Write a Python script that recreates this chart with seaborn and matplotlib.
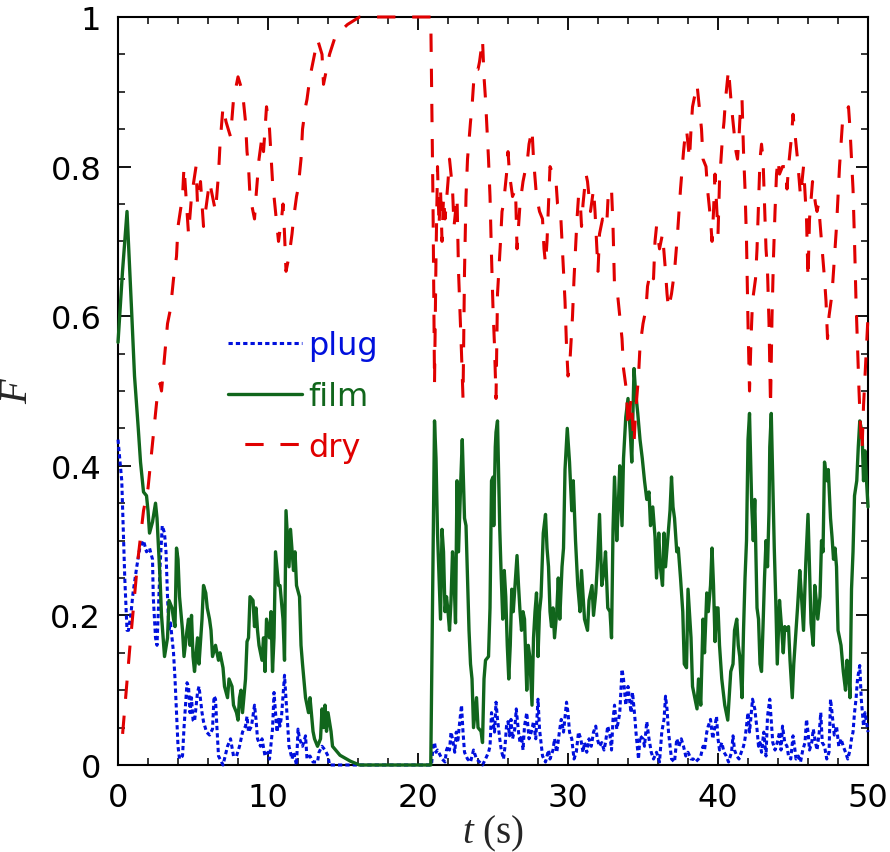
import matplotlib
matplotlib.use("Agg")
import matplotlib.pyplot as plt
from matplotlib.ticker import MultipleLocator, FuncFormatter
import pandas as pd
import seaborn as sns

# plug fraction (blue, dotted)
t_plug = [
    0, 0.25, 0.35, 0.45, 0.6, 0.7, 0.85, 1.0, 1.25, 1.45,
    1.7, 1.9, 2.1, 2.3, 2.35, 2.5, 2.6, 2.8, 2.95, 3.1,
    3.2, 3.3, 3.4, 3.5, 3.7, 3.8, 3.9, 4.0, 4.1, 4.3,
    4.4, 4.6, 4.7, 4.8, 4.9, 5.0, 5.1, 5.3, 5.4, 5.6,
    5.7, 5.9, 6.1, 6.3, 6.4, 6.5, 6.6, 6.7, 7.0, 7.3,
    7.5, 7.7, 7.9, 8.1, 8.3, 8.5, 8.6, 8.7, 8.9, 9.1,
    9.2, 9.3, 9.5, 9.6, 9.8, 10.0, 10.1, 10.3, 10.4, 10.5,
    10.6, 10.7, 10.8, 10.9, 11.1, 11.2, 11.3, 11.4, 11.6, 11.7,
    11.9, 12.0, 12.1, 12.3, 12.5, 12.6, 12.8, 13.0, 13.3, 13.4,
    13.6, 13.8, 14.0, 14.1, 16.0, 18.0, 20.0, 20.9, 21.0, 21.1,
    21.2, 21.3, 21.5, 21.6, 21.8, 21.9, 22.0, 22.1, 22.2, 22.3,
    22.45, 22.55, 22.65, 22.75, 22.9, 23.0, 23.1, 23.3, 23.5, 23.7,
    23.9, 24.1, 24.3, 24.5, 24.7, 24.8, 24.9, 25.0, 25.1, 25.2,
    25.3, 25.45, 25.55, 25.7, 25.8, 25.9, 26.0, 26.1, 26.2, 26.3,
    26.45, 26.55, 26.7, 26.8, 26.9, 27.0, 27.1, 27.25, 27.4, 27.55,
    27.7, 27.85, 28.0, 28.1, 28.2, 28.3, 28.5, 28.7, 28.8, 29.0,
    29.1, 29.25, 29.45, 29.55, 29.7, 29.9, 30.0, 30.1, 30.25, 30.4,
    30.55, 30.7, 30.85, 31.0, 31.1, 31.25, 31.4, 31.55, 31.7, 31.85,
    31.95, 32.1, 32.25, 32.4, 32.5, 32.65, 32.8, 32.9, 33.0, 33.1,
    33.25, 33.35, 33.45, 33.6, 33.7, 33.85, 34.0, 34.1, 34.2, 34.3,
    34.45, 34.55, 34.7, 34.8, 35.0, 35.1, 35.25, 35.4, 35.55, 35.7,
    35.9, 36.1, 36.25, 36.4, 36.5, 36.6, 36.7, 36.9, 37.1, 37.25,
    37.4, 37.55, 37.7, 37.85, 38.0, 38.2, 38.35, 38.5, 38.7, 38.85,
    39.0, 39.1, 39.25, 39.35, 39.5, 39.65, 39.8, 39.9, 40.0, 40.1,
    40.25, 40.4, 40.55, 40.7, 40.9, 41.0, 41.1, 41.25, 41.4, 41.55,
    41.7, 41.8, 41.9, 42.0, 42.1, 42.2, 42.3, 42.45, 42.6, 42.7,
    42.8, 42.9, 43.05, 43.2, 43.3, 43.45, 43.55, 43.65, 43.8, 43.95,
    44.1, 44.2, 44.3, 44.45, 44.6, 44.7, 44.85, 45.0, 45.1, 45.2,
    45.35, 45.5, 45.65, 45.8, 45.9, 46.0, 46.1, 46.25, 46.35, 46.5,
    46.6, 46.75, 46.85, 46.95, 47.1, 47.25, 47.4, 47.5, 47.6, 47.75,
    47.9, 48.05, 48.2, 48.35, 48.5, 48.65, 48.8, 48.9, 49.0, 49.1,
    49.2, 49.3, 49.45, 49.55, 49.7, 49.8, 50.0]
f_plug = [
    0.435, 0.38, 0.315, 0.25, 0.18, 0.18, 0.20, 0.23, 0.265, 0.29,
    0.30, 0.285, 0.29, 0.275, 0.225, 0.17, 0.16, 0.265, 0.32, 0.31,
    0.285, 0.225, 0.18, 0.19, 0.15, 0.115, 0.07, 0.025, 0.008, 0.012,
    0.05, 0.11, 0.105, 0.07, 0.09, 0.06, 0.058, 0.097, 0.105, 0.07,
    0.058, 0.044, 0.04, 0.048, 0.092, 0.088, 0.048, 0.012, 0.0, 0.025,
    0.035, 0.012, 0.012, 0.025, 0.044, 0.052, 0.065, 0.044, 0.052, 0.08,
    0.061, 0.035, 0.025, 0.035, 0.012, 0.017, 0.008, 0.048, 0.097, 0.07,
    0.044, 0.061, 0.052, 0.065, 0.12, 0.088, 0.057, 0.025, 0.008, 0.017,
    0.0, 0.048, 0.035, 0.025, 0.039, 0.008, 0.012, 0.004, 0.004, 0.017,
    0.025, 0.02, 0.012, 0.0, 0.0, 0.0, 0.0, 0.0, 0.025, 0.03,
    0.017, 0.02, 0.012, 0.008, 0.004, 0.02, 0.025, 0.02, 0.044, 0.035,
    0.017, 0.044, 0.03, 0.052, 0.08, 0.044, 0.017, 0.008, 0.004, 0.02,
    0.008, 0.004, 0.0, 0.008, 0.017, 0.025, 0.07, 0.058, 0.044, 0.084,
    0.061, 0.035, 0.02, 0.008, 0.025, 0.052, 0.058, 0.039, 0.061, 0.035,
    0.048, 0.075, 0.044, 0.03, 0.039, 0.02, 0.052, 0.07, 0.035, 0.044,
    0.058, 0.035, 0.088, 0.048, 0.03, 0.012, 0.004, 0.02, 0.008, 0.02,
    0.035, 0.017, 0.048, 0.061, 0.044, 0.084, 0.07, 0.044, 0.035, 0.008,
    0.017, 0.044, 0.035, 0.017, 0.03, 0.017, 0.035, 0.025, 0.044, 0.052,
    0.035, 0.025, 0.03, 0.02, 0.03, 0.052, 0.039, 0.02, 0.061, 0.08,
    0.048, 0.058, 0.07, 0.128, 0.115, 0.08, 0.105, 0.088, 0.07, 0.097,
    0.065, 0.039, 0.008, 0.039, 0.035, 0.025, 0.058, 0.035, 0.017, 0.008,
    0.017, 0.004, 0.044, 0.061, 0.092, 0.075, 0.044, 0.008, 0.004, 0.035,
    0.025, 0.035, 0.025, 0.012, 0.017, 0.008, 0.008, 0.004, 0.008, 0.012,
    0.025, 0.02, 0.044, 0.052, 0.061, 0.035, 0.052, 0.065, 0.035, 0.02,
    0.03, 0.017, 0.012, 0.004, 0.017, 0.039, 0.02, 0.012, 0.008, 0.017,
    0.025, 0.035, 0.052, 0.07, 0.044, 0.065, 0.088, 0.075, 0.048, 0.025,
    0.03, 0.017, 0.044, 0.012, 0.065, 0.088, 0.058, 0.03, 0.02, 0.03,
    0.044, 0.02, 0.052, 0.03, 0.025, 0.012, 0.008, 0.039, 0.025, 0.008,
    0.012, 0.004, 0.02, 0.03, 0.061, 0.044, 0.02, 0.03, 0.048, 0.03,
    0.02, 0.044, 0.07, 0.03, 0.025, 0.008, 0.017, 0.088, 0.07, 0.04,
    0.052, 0.025, 0.035, 0.025, 0.017, 0.008, 0.02, 0.035, 0.044, 0.07,
    0.088, 0.115, 0.133, 0.088, 0.052, 0.07, 0.044]

# film fraction (green, solid)
t_film = [
    0, 0.3, 0.6, 0.9, 1.1, 1.35, 1.5, 1.7, 1.9, 2.0,
    2.1, 2.3, 2.5, 2.6, 2.8, 2.9, 3.1, 3.3, 3.4, 3.6,
    3.7, 3.8, 3.9, 4.0, 4.1, 4.3, 4.4, 4.6, 4.7, 4.8,
    4.9, 5.0, 5.1, 5.3, 5.4, 5.6, 5.7, 5.85, 5.95, 6.1,
    6.2, 6.3, 6.5, 6.7, 6.8, 7.0, 7.1, 7.3, 7.4, 7.6,
    7.7, 7.9, 8.0, 8.1, 8.2, 8.3, 8.5, 8.6, 8.7, 8.8,
    9.0, 9.1, 9.2, 9.3, 9.4, 9.6, 9.7, 9.8, 9.9, 10.1,
    10.2, 10.3, 10.4, 10.5, 10.7, 10.8, 11.0, 11.1, 11.2, 11.4,
    11.5, 11.7, 11.8, 11.9, 12.1, 12.2, 12.3, 12.5, 12.7, 12.8,
    13.0, 13.1, 13.3, 13.5, 13.6, 13.7, 13.8, 13.9, 14.0, 14.2,
    14.3, 14.8, 15.5, 16.1, 18.0, 20.0, 20.85, 21.1, 21.2, 21.3,
    21.5, 21.6, 21.7, 21.8, 21.9, 22.0, 22.1, 22.2, 22.3, 22.4,
    22.5, 22.6, 22.7, 22.85, 22.95, 23.1, 23.2, 23.3, 23.4, 23.5,
    23.6, 23.7, 23.9, 24.0, 24.2, 24.3, 24.4, 24.5, 24.7, 24.8,
    24.9, 25.0, 25.05, 25.15, 25.2, 25.3, 25.45, 25.55, 25.65, 25.75,
    25.85, 25.95, 26.05, 26.15, 26.25, 26.35, 26.5, 26.6, 26.7, 26.8,
    26.9, 27.0, 27.1, 27.25, 27.35, 27.45, 27.6, 27.7, 27.8, 27.9,
    28.0, 28.1, 28.2, 28.35, 28.5, 28.6, 28.7, 28.8, 28.9, 29.0,
    29.1, 29.25, 29.35, 29.45, 29.6, 29.7, 29.8, 29.95, 30.1, 30.25,
    30.35, 30.5, 30.65, 30.8, 30.9, 31.1, 31.3, 31.4, 31.6, 31.7,
    31.85, 31.95, 32.1, 32.25, 32.4, 32.5, 32.65, 32.8, 32.9, 33.0,
    33.1, 33.25, 33.35, 33.45, 33.6, 33.7, 33.85, 34.0, 34.15, 34.25,
    34.4, 34.5, 34.65, 34.8, 34.95, 35.1, 35.25, 35.4, 35.5, 35.65,
    35.8, 35.9, 36.05, 36.15, 36.3, 36.4, 36.5, 36.6, 36.8, 36.9,
    37.0, 37.1, 37.25, 37.35, 37.5, 37.65, 37.75, 37.9, 38.0, 38.2,
    38.3, 38.45, 38.6, 38.7, 38.85, 39.0, 39.1, 39.25, 39.35, 39.5,
    39.6, 39.7, 39.8, 39.9, 40.0, 40.1, 40.25, 40.45, 40.65, 40.85,
    41.0, 41.1, 41.25, 41.35, 41.45, 41.6, 41.7, 41.8, 41.9, 42.0,
    42.1, 42.25, 42.35, 42.45, 42.6, 42.7, 42.8, 42.9, 43.0, 43.1,
    43.2, 43.3, 43.4, 43.45, 43.55, 43.65, 43.75, 43.85, 43.95, 44.1,
    44.25, 44.35, 44.45, 44.6, 44.7, 44.8, 44.95, 45.05, 45.2, 45.3,
    45.45, 45.55, 45.7, 45.85, 46.0, 46.1, 46.2, 46.35, 46.45, 46.55,
    46.65, 46.8, 46.9, 47.0, 47.1, 47.25, 47.35, 47.5, 47.6, 47.7,
    47.8, 47.9, 48.0, 48.2, 48.35, 48.5, 48.6, 48.7, 48.8, 48.9,
    49.0, 49.1, 49.25, 49.35, 49.45, 49.6, 49.7, 49.8, 49.9, 50.0]
f_film = [
    0.565, 0.66, 0.74, 0.61, 0.52, 0.45, 0.405, 0.365, 0.36, 0.34,
    0.31, 0.325, 0.35, 0.33, 0.25, 0.20, 0.145, 0.17, 0.22, 0.21,
    0.195, 0.185, 0.29, 0.275, 0.225, 0.18, 0.145, 0.18, 0.195, 0.16,
    0.20, 0.145, 0.125, 0.17, 0.135, 0.195, 0.24, 0.23, 0.21, 0.195,
    0.18, 0.145, 0.16, 0.14, 0.15, 0.13, 0.105, 0.09, 0.115, 0.105,
    0.08, 0.07, 0.06, 0.09, 0.10, 0.07, 0.115, 0.165, 0.17, 0.225,
    0.22, 0.185, 0.21, 0.18, 0.16, 0.14, 0.17, 0.125, 0.195, 0.17,
    0.205, 0.125, 0.17, 0.285, 0.24, 0.24, 0.195, 0.14, 0.34, 0.265,
    0.315, 0.26, 0.285, 0.24, 0.225, 0.16, 0.135, 0.09, 0.07, 0.09,
    0.045, 0.035, 0.025, 0.035, 0.075, 0.05, 0.08, 0.045, 0.07, 0.045,
    0.025, 0.013, 0.005, 0.0, 0.0, 0.0, 0.0, 0.46, 0.41, 0.31,
    0.195, 0.315, 0.285, 0.205, 0.225, 0.205, 0.18, 0.22, 0.285, 0.25,
    0.19, 0.38, 0.285, 0.38, 0.435, 0.33, 0.32, 0.25, 0.18, 0.135,
    0.115, 0.05, 0.09, 0.05, 0.045, 0.03, 0.115, 0.14, 0.145, 0.21,
    0.38, 0.385, 0.32, 0.425, 0.445, 0.46, 0.315, 0.25, 0.195, 0.26,
    0.225, 0.16, 0.115, 0.16, 0.235, 0.205, 0.25, 0.28, 0.24, 0.205,
    0.18, 0.205, 0.195, 0.10, 0.16, 0.145, 0.08, 0.17, 0.205, 0.23,
    0.145, 0.205, 0.225, 0.31, 0.335, 0.29, 0.265, 0.205, 0.185, 0.21,
    0.17, 0.205, 0.25, 0.195, 0.265, 0.29, 0.395, 0.45, 0.405, 0.34,
    0.38, 0.30, 0.24, 0.205, 0.26, 0.195, 0.18, 0.22, 0.24, 0.20,
    0.23, 0.265, 0.335, 0.24, 0.26, 0.285, 0.21, 0.205, 0.17, 0.315,
    0.385, 0.30, 0.345, 0.40, 0.32, 0.41, 0.465, 0.49, 0.445, 0.405,
    0.53, 0.50, 0.47, 0.435, 0.41, 0.38, 0.355, 0.365, 0.32, 0.345,
    0.305, 0.25, 0.31, 0.265, 0.24, 0.31, 0.265, 0.29, 0.34, 0.385,
    0.345, 0.33, 0.285, 0.29, 0.25, 0.205, 0.135, 0.13, 0.235, 0.17,
    0.105, 0.09, 0.075, 0.115, 0.08, 0.195, 0.15, 0.23, 0.205, 0.24,
    0.29, 0.24, 0.165, 0.21, 0.21, 0.16, 0.115, 0.08, 0.06, 0.125,
    0.135, 0.18, 0.195, 0.16, 0.145, 0.09, 0.18, 0.25, 0.30, 0.435,
    0.47, 0.345, 0.30, 0.355, 0.21, 0.195, 0.135, 0.125, 0.185, 0.25,
    0.30, 0.265, 0.34, 0.425, 0.47, 0.38, 0.29, 0.22, 0.135, 0.22,
    0.18, 0.15, 0.185, 0.18, 0.185, 0.14, 0.09, 0.135, 0.18, 0.21,
    0.26, 0.23, 0.18, 0.27, 0.335, 0.265, 0.19, 0.16, 0.24, 0.22,
    0.195, 0.225, 0.30, 0.285, 0.405, 0.38, 0.395, 0.33, 0.305, 0.275,
    0.29, 0.265, 0.18, 0.16, 0.125, 0.10, 0.14, 0.125, 0.09, 0.235,
    0.285, 0.36, 0.38, 0.425, 0.46, 0.445, 0.38, 0.42, 0.38, 0.345]

# dry fraction (red, dashed)
t_dry = [
    0, 0.3, 0.8, 1.3, 1.7, 2.0, 2.3, 2.6, 2.8, 2.9,
    3.3, 3.5, 3.7, 3.9, 4.0, 4.3, 4.4, 4.6, 4.7, 4.9,
    5.2, 5.3, 5.5, 5.7, 5.9, 6.1, 6.3, 6.5, 6.7, 6.8,
    7.0, 7.2, 7.5, 7.7, 7.9, 8.0, 8.3, 8.5, 8.6, 8.7,
    8.8, 9.0, 9.1, 9.2, 9.4, 9.6, 9.7, 9.9, 10.1, 10.3,
    10.5, 10.6, 10.7, 10.9, 11.0, 11.1, 11.2, 11.4, 11.6, 11.7,
    11.9, 12.0, 12.2, 12.3, 12.5, 12.6, 12.8, 13.0, 13.3, 13.6,
    13.7, 13.9, 14.1, 14.5, 15.3, 16.1, 18.0, 20.0, 20.85, 21.0,
    21.1, 21.2, 21.3, 21.4, 21.5, 21.6, 21.7, 21.8, 22.0, 22.1,
    22.3, 22.4, 22.6, 22.7, 22.9, 23.0, 23.1, 23.2, 23.3, 23.5,
    23.6, 23.7, 23.8, 24.0, 24.1, 24.3, 24.4, 24.5, 24.6, 24.7,
    24.8, 24.9, 25.0, 25.1, 25.2, 25.3, 25.5, 25.6, 25.7, 25.9,
    26.0, 26.1, 26.3, 26.5, 26.6, 26.7, 26.8, 27.0, 27.1, 27.3,
    27.4, 27.6, 27.7, 27.9, 28.0, 28.1, 28.3, 28.4, 28.5, 28.6,
    28.8, 29.0, 29.2, 29.3, 29.5, 29.6, 29.7, 29.8, 29.9, 30.0,
    30.1, 30.3, 30.4, 30.5, 30.6, 30.7, 30.8, 30.9, 31.0, 31.2,
    31.3, 31.5, 31.7, 31.8, 31.9, 32.0, 32.1, 32.3, 32.5, 32.6,
    32.7, 32.9, 33.0, 33.1, 33.3, 33.5, 33.6, 33.7, 33.9, 34.0,
    34.2, 34.4, 34.5, 34.7, 34.8, 35.0, 35.2, 35.3, 35.5, 35.7,
    35.8, 35.9, 36.1, 36.3, 36.5, 36.6, 36.7, 36.9, 37.1, 37.3,
    37.5, 37.7, 37.8, 37.9, 38.1, 38.2, 38.3, 38.5, 38.6, 38.7,
    38.9, 39.0, 39.2, 39.3, 39.5, 39.6, 39.7, 39.8, 39.9, 40.0,
    40.1, 40.3, 40.4, 40.5, 40.7, 40.9, 41.1, 41.2, 41.3, 41.4,
    41.5, 41.6, 41.7, 41.8, 41.9, 42.0, 42.1, 42.2, 42.3, 42.5,
    42.6, 42.7, 42.8, 42.9, 43.0, 43.1, 43.2, 43.3, 43.4, 43.5,
    43.6, 43.7, 43.8, 43.9, 44.0, 44.1, 44.3, 44.5, 44.6, 44.7,
    44.9, 45.0, 45.1, 45.2, 45.3, 45.5, 45.6, 45.7, 45.9, 46.0,
    46.1, 46.3, 46.5, 46.6, 46.7, 46.9, 47.1, 47.2, 47.3, 47.4,
    47.6, 47.7, 47.8, 47.9, 48.0, 48.1, 48.3, 48.5, 48.7, 48.8,
    48.9, 49.0, 49.1, 49.2, 49.3, 49.4, 49.5, 49.6, 49.7, 49.8,
    50.0]
f_dry = [
    0.02, 0.04, 0.16, 0.27, 0.34, 0.37, 0.43, 0.49, 0.51, 0.50,
    0.59, 0.61, 0.65, 0.68, 0.72, 0.76, 0.80, 0.74, 0.71, 0.76,
    0.80, 0.75, 0.78, 0.72, 0.75, 0.78, 0.76, 0.74, 0.79, 0.83,
    0.88, 0.86, 0.84, 0.89, 0.91, 0.92, 0.90, 0.86, 0.82, 0.80,
    0.76, 0.74, 0.73, 0.76, 0.81, 0.84, 0.82, 0.88, 0.85, 0.78,
    0.74, 0.72, 0.70, 0.73, 0.75, 0.71, 0.66, 0.68, 0.71, 0.73,
    0.76, 0.77, 0.81, 0.85, 0.88, 0.89, 0.92, 0.94, 0.97, 0.95,
    0.91, 0.93, 0.95, 0.975, 0.99, 1.0, 1.0, 1.0, 1.0, 0.75,
    0.51, 0.68, 0.80, 0.72, 0.77, 0.70, 0.76, 0.73, 0.78, 0.81,
    0.77, 0.72, 0.76, 0.66, 0.55, 0.49, 0.66, 0.76, 0.81, 0.86,
    0.88, 0.91, 0.93, 0.93, 0.94, 0.97, 0.92, 0.89, 0.85, 0.81,
    0.76, 0.68, 0.61, 0.56, 0.49, 0.63, 0.70, 0.74, 0.75, 0.79,
    0.82, 0.79, 0.76, 0.77, 0.69, 0.72, 0.75, 0.78, 0.79, 0.81,
    0.83, 0.85, 0.81, 0.76, 0.75, 0.74, 0.73, 0.69, 0.67, 0.70,
    0.80, 0.79, 0.78, 0.75, 0.74, 0.70, 0.66, 0.62, 0.56, 0.52,
    0.53, 0.60, 0.65, 0.69, 0.73, 0.76, 0.76, 0.72, 0.75, 0.79,
    0.78, 0.74, 0.77, 0.74, 0.70, 0.66, 0.71, 0.73, 0.72, 0.73,
    0.77, 0.77, 0.72, 0.64, 0.63, 0.59, 0.57, 0.53, 0.50, 0.45,
    0.49, 0.43, 0.47, 0.52, 0.56, 0.59, 0.61, 0.64, 0.66, 0.65,
    0.70, 0.72, 0.69, 0.71, 0.66, 0.63, 0.61, 0.63, 0.66, 0.71,
    0.77, 0.82, 0.84, 0.85, 0.81, 0.85, 0.88, 0.90, 0.91, 0.89,
    0.85, 0.81, 0.80, 0.77, 0.73, 0.70, 0.74, 0.79, 0.75, 0.71,
    0.78, 0.84, 0.86, 0.89, 0.93, 0.88, 0.84, 0.82, 0.81, 0.84,
    0.88, 0.89, 0.82, 0.77, 0.70, 0.59, 0.50, 0.57, 0.62, 0.65,
    0.69, 0.75, 0.81, 0.83, 0.81, 0.75, 0.69, 0.66, 0.59, 0.48,
    0.60, 0.68, 0.74, 0.79, 0.81, 0.79, 0.80, 0.80, 0.77, 0.80,
    0.84, 0.87, 0.85, 0.83, 0.81, 0.76, 0.78, 0.80, 0.73, 0.65,
    0.73, 0.78, 0.75, 0.74, 0.75, 0.70, 0.65, 0.62, 0.57, 0.60,
    0.63, 0.66, 0.69, 0.72, 0.76, 0.80, 0.86, 0.87, 0.88, 0.85,
    0.81, 0.77, 0.70, 0.62, 0.56, 0.50, 0.45, 0.42, 0.48, 0.52,
    0.60]

assert len(t_plug) == len(f_plug)
assert len(t_film) == len(f_film)
assert len(t_dry) == len(f_dry)

sns.set_theme(style="ticks")
plt.rcParams["font.family"] = ["DejaVu Sans"]
plt.rcParams["mathtext.fontset"] = "custom"
plt.rcParams["mathtext.rm"] = "Liberation Serif"
plt.rcParams["mathtext.it"] = "Liberation Serif:italic"
plt.rcParams["xtick.direction"] = "in"
plt.rcParams["ytick.direction"] = "in"
plt.rcParams["xtick.top"] = True
plt.rcParams["ytick.right"] = True

fig, ax = plt.subplots(figsize=(8.9, 8.53), dpi=100)
fig.subplots_adjust(left=0.1326, right=0.9753, top=0.9789, bottom=0.102)

series = [
    ("plug", t_plug, f_plug, "#0010dd", (0, (1.4, 1.0)), 2.2),
    ("film", t_film, f_film, "#11661c", "-", 2.4),
    ("dry", t_dry, f_dry, "#e00000", (6, (6, 5.5)), 2.2),
]
for name, t, f, color, ls, lw in series:
    df = pd.DataFrame({"t": t, "F": f})
    sns.lineplot(data=df, x="t", y="F", ax=ax, color=color, linestyle=ls,
                 linewidth=lw, label=name, estimator=None, sort=False,
                 clip_on=False, zorder=3)

ax.set_xlim(0, 50)
ax.set_ylim(0, 1)
ax.xaxis.set_major_locator(MultipleLocator(10))
ax.xaxis.set_minor_locator(MultipleLocator(2))
ax.yaxis.set_major_locator(MultipleLocator(0.2))
ax.yaxis.set_minor_locator(MultipleLocator(0.05))
ax.yaxis.set_major_formatter(FuncFormatter(lambda v, p: "%g" % round(v, 2)))
ax.tick_params(which="major", length=9, width=1.3, labelsize=23, pad=12,
               colors="black")
ax.tick_params(which="minor", length=5, width=1.3)
for sp in ax.spines.values():
    sp.set_linewidth(1.5)
    sp.set_color("black")

ax.set_xlabel("$t$ (s)", fontsize=28, family="Liberation Serif", labelpad=0)
ax.set_ylabel("F", fontsize=29, family="Liberation Serif", style="italic",
              labelpad=10)

ax.legend(loc="center left", bbox_to_anchor=(0.1467, 0.493), frameon=False,
          borderpad=0, borderaxespad=0, handlelength=2.3, handletextpad=0.22,
          labelspacing=0.62, labelcolor="linecolor",
          prop={"family": "DejaVu Sans", "size": 23})

fig.savefig("out.png", dpi=100)
